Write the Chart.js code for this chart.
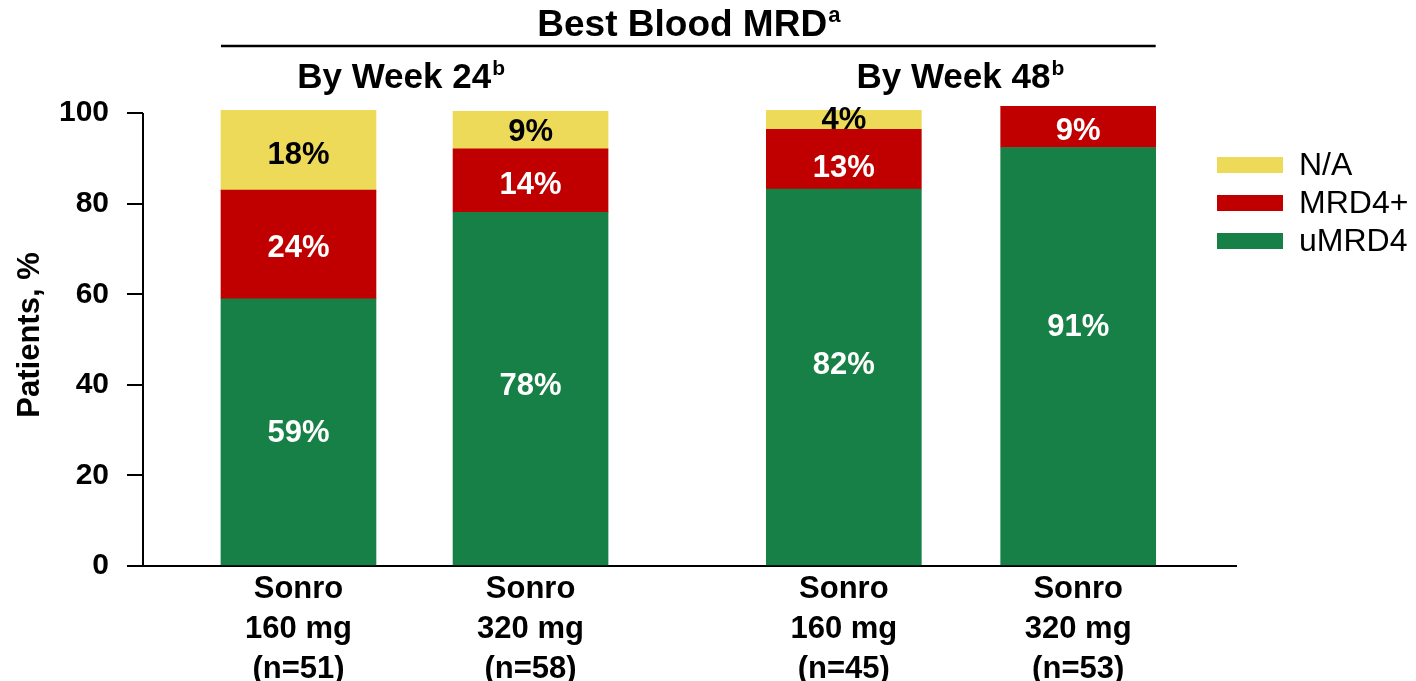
<!DOCTYPE html>
<html>
<head>
<meta charset="utf-8">
<script src="https://cdn.jsdelivr.net/npm/chart.js@4"></script>
<style>
  html, body { margin: 0; padding: 0; background: #fff; }
  #wrap { width: 1416px; height: 681px; }
</style>
</head>
<body>
<div id="wrap"><canvas id="myChart" width="1416" height="681"></canvas></div>
<script>
// Data
const categories = [
    ['Sonro', '160 mg', '(n=51)'],
    ['Sonro', '320 mg', '(n=58)'],
    ['Sonro', '160 mg', '(n=45)'],
    ['Sonro', '320 mg', '(n=53)']
];
const positions = [1, 2, 3.35, 4.36];
const uMRD4 = [59, 78.1, 83.2, 92.4];
const mrd4Pos = [24, 14, 13.2, 9.1];
const notAvail = [17.6, 8.3, 4.2, 0];
const uMRD4Text = ['59%', '78%', '82%', '91%'];
const mrd4PosText = ['24%', '14%', '13%', '9%'];
const notAvailText = ['18%', '9%', '4%', null];
const yTicks = [0, 20, 40, 60, 80, 100];

const GREEN = '#168046';
const RED = '#C00000';
const YELLOW = '#EDDA58';
const FONT = "'Liberation Sans', Arial, sans-serif";

// small vertical nudges (px) so labels sit where the original put them
const labelNudge = [
    [1, -3, -13, -30],
    [3, 4, 8, 4],
    [4, 1, 0, 0]
];

const toPoints = vals => vals.map((v, i) => ({ x: positions[i], y: v }));

// text with a superscript, centred on cx
function supText(ctx, main, sup, cx, y, size, supSize, rise) {
    ctx.font = `bold ${size}px ${FONT}`;
    const w1 = ctx.measureText(main).width;
    ctx.font = `bold ${supSize}px ${FONT}`;
    const w2 = ctx.measureText(sup).width;
    const x0 = cx - (w1 + w2) / 2;
    ctx.textAlign = 'left';
    ctx.textBaseline = 'alphabetic';
    ctx.fillStyle = '#000';
    ctx.font = `bold ${size}px ${FONT}`;
    ctx.fillText(main, x0, y);
    ctx.font = `bold ${supSize}px ${FONT}`;
    ctx.fillText(sup, x0 + w1 + 1, y - rise);
}

const extras = {
    id: 'extras',
    afterDatasetsDraw(chart) {
        const ctx = chart.ctx;
        const x = chart.scales.x;
        const y = chart.scales.y;
        const area = chart.chartArea;
        ctx.save();

        // y axis line only up to 100
        ctx.strokeStyle = '#000';
        ctx.lineWidth = 2;
        ctx.beginPath();
        ctx.moveTo(area.left, y.getPixelForValue(0));
        ctx.lineTo(area.left, y.getPixelForValue(100));
        ctx.stroke();

        // values inside segments
        const texts = [uMRD4Text, mrd4PosText, notAvailText];
        const colors = ['#fff', '#fff', '#000'];
        ctx.textAlign = 'center';
        ctx.textBaseline = 'middle';
        ctx.font = `bold 31px ${FONT}`;
        texts.forEach((arr, d) => {
            chart.getDatasetMeta(d).data.forEach((bar, i) => {
                if (!arr[i]) return;
                ctx.fillStyle = colors[d];
                ctx.fillText(arr[i], bar.x, (bar.y + bar.base) / 2 + 1 + labelNudge[d][i]);
            });
        });

        // headers
        const bars = chart.getDatasetMeta(0).data;
        const left = bars[0].x - bars[0].width / 2;
        const right = bars[3].x + bars[3].width / 2;
        supText(ctx, 'Best Blood MRD', 'a', x.getPixelForValue(2.68), 36, 37, 22, 14);
        ctx.strokeStyle = '#000';
        ctx.lineWidth = 2.5;
        ctx.beginPath();
        ctx.moveTo(left, 46);
        ctx.lineTo(right, 46);
        ctx.stroke();
        supText(ctx, 'By Week 24', 'b', x.getPixelForValue(1.44), 88, 35, 21, 13);
        supText(ctx, 'By Week 48', 'b', x.getPixelForValue(3.85), 88, 35, 21, 13);

        // legend
        const items = [['N/A', YELLOW], ['MRD4+', RED], ['uMRD4', GREEN]];
        ctx.font = `32px ${FONT}`;
        ctx.textAlign = 'left';
        ctx.textBaseline = 'middle';
        items.forEach((it, k) => {
            const top = 157 + k * 38;
            ctx.fillStyle = it[1];
            ctx.fillRect(area.right - 19, top, 66, 16);
            ctx.fillStyle = '#000';
            ctx.fillText(it[0], area.right + 63, top + 9);
        });
        ctx.restore();
    }
};

const ctx = document.getElementById('myChart').getContext('2d');
new Chart(ctx, {
    type: 'bar',
    data: {
        datasets: [
            { label: 'uMRD4', data: toPoints(uMRD4), backgroundColor: GREEN },
            { label: 'MRD4+', data: toPoints(mrd4Pos), backgroundColor: RED },
            { label: 'N/A', data: toPoints(notAvail), backgroundColor: YELLOW }
        ]
    },
    options: {
        responsive: false,
        animation: false,
        barThickness: 155,
        layout: { padding: { left: 0, right: 180, top: 104, bottom: 0 } },
        plugins: { legend: { display: false }, tooltip: { enabled: false } },
        scales: {
            x: {
                type: 'linear',
                stacked: true,
                offset: false,
                min: 0.33,
                max: 5.04,
                afterBuildTicks: axis => { axis.ticks = positions.map(v => ({ value: v })); },
                afterFit: s => { s.height = 115; },
                grid: { display: true, drawOnChartArea: false, drawTicks: false },
                border: { display: true, color: '#000', width: 2 },
                ticks: {
                    autoSkip: false,
                    maxRotation: 0,
                    padding: 3,
                    color: '#000',
                    font: { family: FONT, size: 31, weight: 'bold', lineHeight: 1.3 },
                    callback: (v, i) => categories[i]
                }
            },
            y: {
                stacked: true,
                min: 0,
                max: 102,
                afterBuildTicks: axis => { axis.ticks = yTicks.map(v => ({ value: v })); },
                afterFit: s => { s.width = 143; },
                border: { display: false },
                grid: { drawOnChartArea: false, drawTicks: true, tickLength: 16, color: '#000', lineWidth: 2 },
                ticks: {
                    padding: 18,
                    color: '#000',
                    font: { family: FONT, size: 30, weight: 'bold' }
                },
                title: {
                    display: true,
                    text: 'Patients, %',
                    color: '#000',
                    padding: { top: 12, bottom: 0 },
                    font: { family: FONT, size: 31, weight: 'bold' }
                }
            }
        }
    },
    plugins: [extras]
});
</script>
</body>
</html>
